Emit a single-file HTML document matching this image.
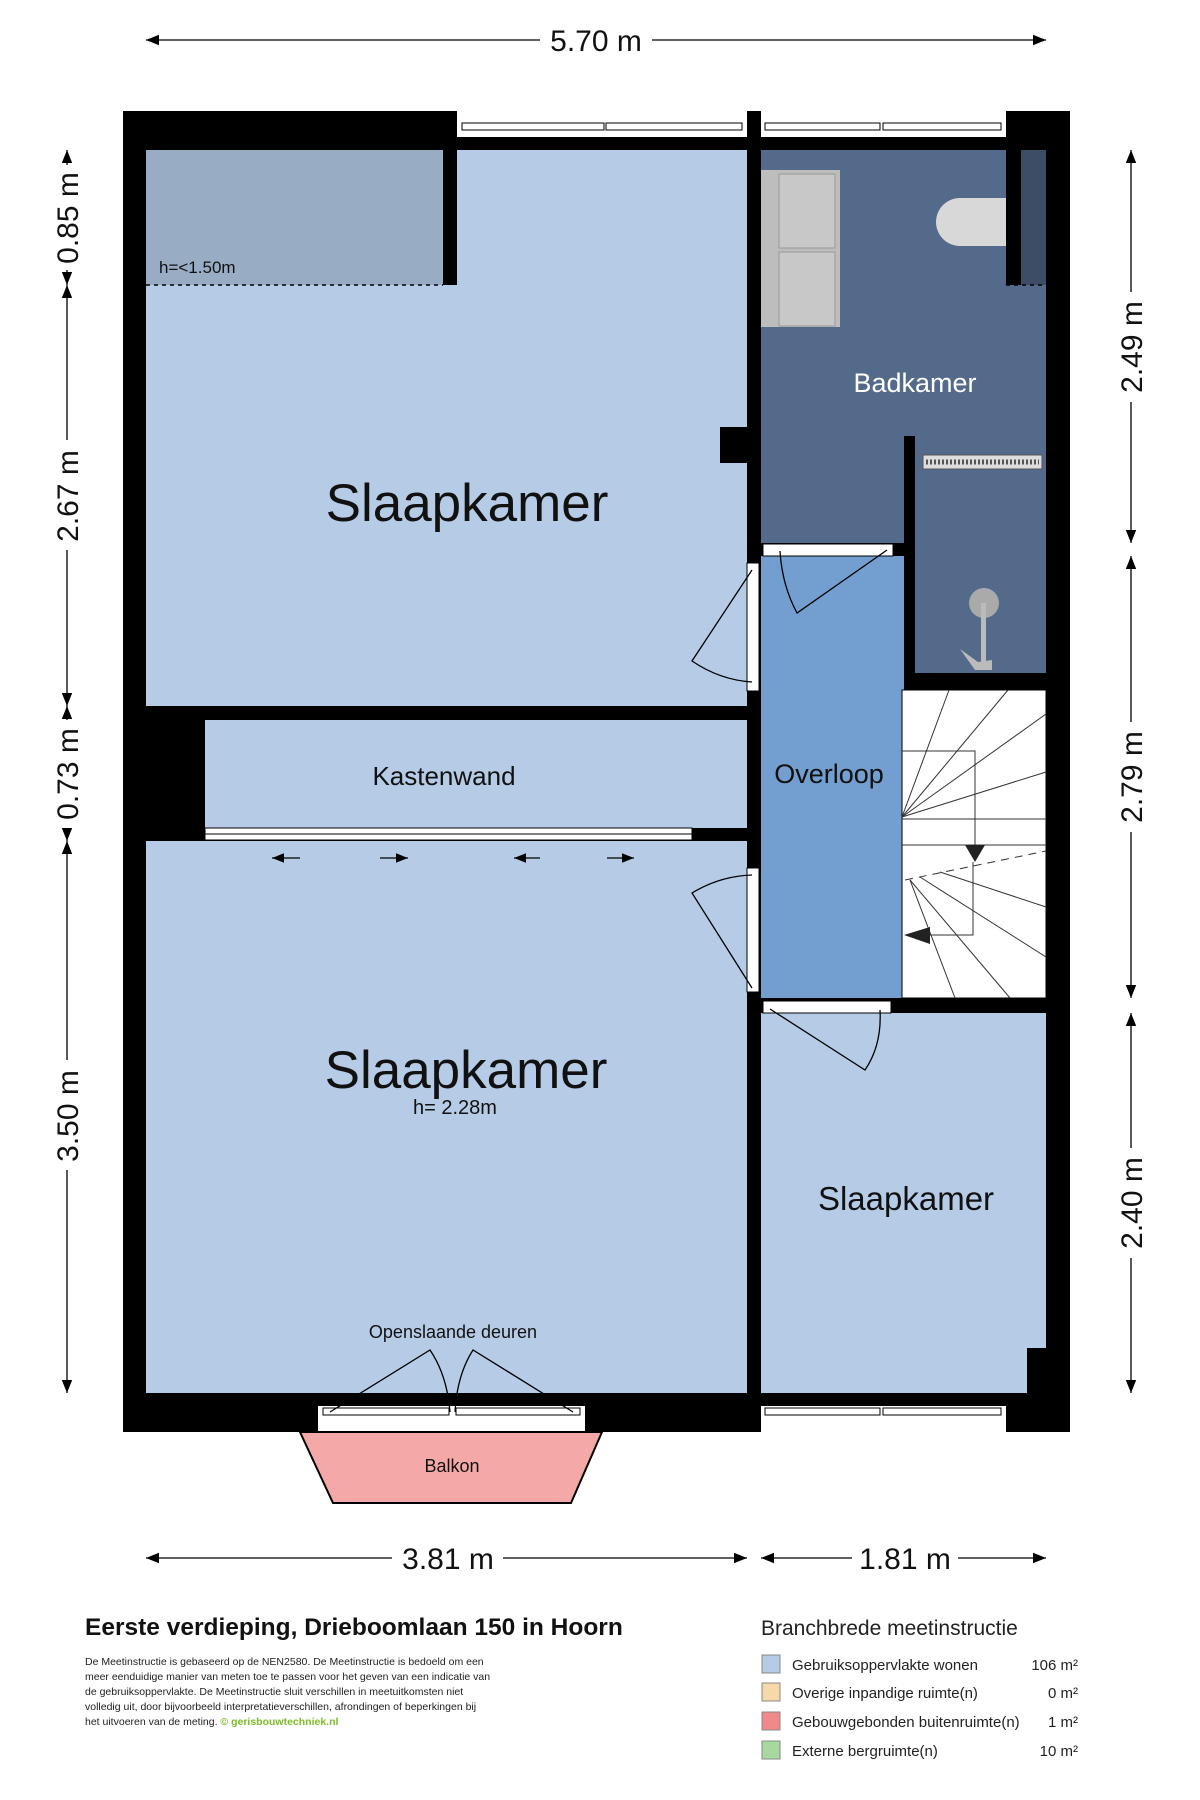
<!DOCTYPE html>
<html><head><meta charset="utf-8"><style>
html,body{margin:0;padding:0;background:#fff;width:1200px;height:1800px;overflow:hidden}
svg{display:block}
text{font-family:"Liberation Sans",sans-serif}
</style></head><body>
<svg width="1200" height="1800" viewBox="0 0 1200 1800" xmlns="http://www.w3.org/2000/svg">
<defs>
<marker id="ar" viewBox="0 0 10 10" refX="10" refY="5" markerWidth="10" markerHeight="10" orient="auto-start-reverse"><path d="M0,1 L10,5 L0,9 z" fill="#000"/></marker>
</defs>
<rect x="123" y="111" width="947" height="1321" fill="#000"/>
<rect x="146" y="150" width="601" height="556" fill="#b6cce6"/>
<rect x="146" y="150" width="297" height="135" fill="#98adc4"/>
<line x1="146" y1="285" x2="443" y2="285" stroke="#000" stroke-width="1.5" stroke-dasharray="4,4"/>
<rect x="443" y="150" width="14" height="135" fill="#000"/>
<rect x="720" y="427" width="27" height="36" fill="#000"/>
<rect x="205" y="720" width="542" height="108" fill="#b6cce6"/>
<rect x="146" y="841" width="601" height="552" fill="#b6cce6"/>
<rect x="761" y="150" width="285" height="393" fill="#546a8a"/>
<rect x="915" y="436" width="131" height="237" fill="#546a8a"/>
<rect x="904" y="436" width="11" height="252" fill="#000"/>
<rect x="1006" y="111" width="15" height="174" fill="#000"/>
<rect x="1021" y="150" width="25" height="135" fill="#3d4d66"/>
<line x1="1006" y1="285" x2="1046" y2="285" stroke="#000" stroke-width="1.5" stroke-dasharray="4,4"/>
<rect x="761" y="170" width="79" height="157" fill="#bdbdbd"/>
<rect x="779" y="174" width="56" height="74" fill="#c8c8c8" stroke="#999"/>
<rect x="779" y="252" width="56" height="74" fill="#c8c8c8" stroke="#999"/>
<path d="M1006,198 L960,198 A24,24 0 0 0 960,246 L1006,246 z" fill="#d8d8d8"/>
<rect x="923" y="455" width="119" height="14" fill="#ddd" stroke="#555"/>
<line x1="926" y1="462" x2="1039" y2="462" stroke="#555" stroke-width="5" stroke-dasharray="2,2"/>
<circle cx="984" cy="603" r="15" fill="#aaa"/>
<rect x="981" y="603" width="5" height="62" fill="#bbb"/>
<path d="M960,649 L978,662 L992,660 L992,670 L975,670 z" fill="#bbb"/>
<rect x="761" y="556" width="143" height="442" fill="#729fcf"/>
<rect x="902" y="690" width="144" height="308" fill="#fff" stroke="#000"/>
<g stroke="#333" stroke-width="1" fill="none">
<line x1="902" y1="817" x2="949" y2="690"/><line x1="902" y1="817" x2="1008" y2="690"/><line x1="902" y1="817" x2="1046" y2="714"/><line x1="902" y1="817" x2="1046" y2="772"/>
<line x1="902" y1="819" x2="1046" y2="819"/><line x1="902" y1="845" x2="1046" y2="845"/>
<line x1="910" y1="880" x2="955" y2="998"/><line x1="910" y1="880" x2="1010" y2="998"/><line x1="920" y1="877" x2="1046" y2="957"/><line x1="940" y1="872" x2="1046" y2="907"/>
<polyline points="902,751 975,751 975,845"/>
<polyline points="973,862 973,935 920,935"/>
<path d="M905,880 L1046,851" stroke-dasharray="8,6"/>
</g>
<path d="M965,845 L985,845 L975,862 z" fill="#222"/>
<path d="M904,935 L930,927 L930,944 z" fill="#222"/>
<rect x="761" y="1013" width="285" height="380" fill="#b6cce6"/>
<rect x="1027" y="1348" width="19" height="45" fill="#000"/>
<g fill="#fff">
<rect x="457" y="111" width="290" height="26"/>
<rect x="761" y="111" width="245" height="26"/>
<rect x="318" y="1406" width="267" height="26"/>
<rect x="761" y="1406" width="245" height="26"/>
</g>
<g fill="none" stroke="#000" stroke-width="1">
<rect x="462" y="123" width="142" height="7"/><rect x="606" y="123" width="136" height="7"/>
<rect x="765" y="123" width="115" height="7"/><rect x="883" y="123" width="118" height="7"/>
<rect x="323" y="1408" width="126" height="7"/><rect x="456" y="1408" width="124" height="7"/>
<rect x="765" y="1408" width="115" height="7"/><rect x="883" y="1408" width="118" height="7"/>
</g>
<rect x="205" y="828" width="487" height="12" fill="#fff" stroke="#000"/>
<line x1="205" y1="834" x2="692" y2="834" stroke="#000"/>
<rect x="692" y="834" width="55" height="5" fill="#000"/>
<g stroke="#000" stroke-width="1.2" marker-end="url(#ar)" fill="none">
<line x1="300" y1="858" x2="272" y2="858"/><line x1="380" y1="858" x2="408" y2="858"/>
<line x1="540" y1="858" x2="514" y2="858"/><line x1="607" y1="858" x2="634" y2="858"/>
</g>
<rect x="747" y="563" width="12" height="128" fill="#fff" stroke="#000"/>
<rect x="747" y="868" width="12" height="124" fill="#fff" stroke="#000"/>
<rect x="763" y="544" width="130" height="12" fill="#fff" stroke="#000"/>
<rect x="763" y="1001" width="128" height="12" fill="#fff" stroke="#000"/>
<g fill="none" stroke="#000" stroke-width="1.3">
<path d="M752,570 L692,661 Q720,680 752,682"/>
<path d="M752,988 L692,893 Q720,876 752,875"/>
<path d="M887,550 L797,613 Q782,585 780,551"/>
<path d="M770,1009 L865,1070 Q882,1045 880,1010"/>
<path d="M330,1412 L430,1350 Q447,1375 450,1412"/>
<path d="M573,1412 L473,1350 Q457,1375 455,1412"/>
</g>
<path d="M300,1432 L602,1432 L571,1503 L333,1503 z" fill="#f4a9a8" stroke="#000" stroke-width="2"/>
<text x="467" y="521" font-size="53" text-anchor="middle" fill="#111">Slaapkamer</text>
<text x="466" y="1088" font-size="53" text-anchor="middle" fill="#111">Slaapkamer</text>
<text x="455" y="1114" font-size="20" text-anchor="middle" fill="#111">h= 2.28m</text>
<text x="444" y="785" font-size="26" text-anchor="middle" fill="#111">Kastenwand</text>
<text x="829" y="783" font-size="27" text-anchor="middle" fill="#111">Overloop</text>
<text x="915" y="392" font-size="27" text-anchor="middle" fill="#fff">Badkamer</text>
<text x="906" y="1210" font-size="33" text-anchor="middle" fill="#111">Slaapkamer</text>
<text x="453" y="1338" font-size="18" text-anchor="middle" fill="#111">Openslaande deuren</text>
<text x="452" y="1472" font-size="18" text-anchor="middle" fill="#111">Balkon</text>
<text x="159" y="273" font-size="17" fill="#111">h=&lt;1.50m</text>
<g stroke="#000" stroke-width="1.3" fill="none">
<line x1="146" y1="40" x2="540" y2="40" marker-start="url(#ar)"/><line x1="652" y1="40" x2="1046" y2="40" marker-end="url(#ar)"/>
<line x1="146" y1="1558" x2="392" y2="1558" marker-start="url(#ar)"/><line x1="503" y1="1558" x2="747" y2="1558" marker-end="url(#ar)"/>
<line x1="761" y1="1558" x2="852" y2="1558" marker-start="url(#ar)"/><line x1="958" y1="1558" x2="1046" y2="1558" marker-end="url(#ar)"/>
<line x1="67" y1="150" x2="67" y2="165" marker-start="url(#ar)"/><line x1="67" y1="270" x2="67" y2="285" marker-end="url(#ar)"/>
<line x1="67" y1="285" x2="67" y2="440" marker-start="url(#ar)"/><line x1="67" y1="550" x2="67" y2="706" marker-end="url(#ar)"/>
<line x1="67" y1="706" x2="67" y2="720" marker-start="url(#ar)"/><line x1="67" y1="828" x2="67" y2="841" marker-end="url(#ar)"/>
<line x1="67" y1="841" x2="67" y2="1060" marker-start="url(#ar)"/><line x1="67" y1="1170" x2="67" y2="1393" marker-end="url(#ar)"/>
<line x1="1131" y1="150" x2="1131" y2="292" marker-start="url(#ar)"/><line x1="1131" y1="402" x2="1131" y2="543" marker-end="url(#ar)"/>
<line x1="1131" y1="556" x2="1131" y2="722" marker-start="url(#ar)"/><line x1="1131" y1="832" x2="1131" y2="998" marker-end="url(#ar)"/>
<line x1="1131" y1="1013" x2="1131" y2="1148" marker-start="url(#ar)"/><line x1="1131" y1="1258" x2="1131" y2="1393" marker-end="url(#ar)"/>
</g>
<g font-size="30" fill="#111">
<text x="596" y="51" text-anchor="middle">5.70 m</text>
<text x="448" y="1569" text-anchor="middle">3.81 m</text>
<text x="905" y="1569" text-anchor="middle">1.81 m</text>
<text transform="translate(78,218) rotate(-90)" text-anchor="middle">0.85 m</text>
<text transform="translate(78,496) rotate(-90)" text-anchor="middle">2.67 m</text>
<text transform="translate(78,774) rotate(-90)" text-anchor="middle">0.73 m</text>
<text transform="translate(78,1116) rotate(-90)" text-anchor="middle">3.50 m</text>
<text transform="translate(1142,347) rotate(-90)" text-anchor="middle">2.49 m</text>
<text transform="translate(1142,777) rotate(-90)" text-anchor="middle">2.79 m</text>
<text transform="translate(1142,1203) rotate(-90)" text-anchor="middle">2.40 m</text>
</g>
<text x="85" y="1635" font-size="24.5" font-weight="bold" fill="#111">Eerste verdieping, Drieboomlaan 150 in Hoorn</text>
<g font-size="10.5" fill="#222">
<text x="85" y="1665">De Meetinstructie is gebaseerd op de NEN2580. De Meetinstructie is bedoeld om een</text>
<text x="85" y="1680">meer eenduidige manier van meten toe te passen voor het geven van een indicatie van</text>
<text x="85" y="1695">de gebruiksoppervlakte. De Meetinstructie sluit verschillen in meetuitkomsten niet</text>
<text x="85" y="1710">volledig uit, door bijvoorbeeld interpretatieverschillen, afrondingen of beperkingen bij</text>
<text x="85" y="1725">het uitvoeren van de meting. <tspan fill="#7dbb2a" font-weight="bold">© gerisbouwtechniek.nl</tspan></text>
</g>
<text x="761" y="1635" font-size="21" fill="#222">Branchbrede meetinstructie</text>
<g font-size="15" fill="#222">
<rect x="762" y="1655" width="18" height="18" fill="#b6cce6" stroke="#888"/>
<text x="792" y="1670">Gebruiksoppervlakte wonen</text><text x="1078" y="1670" text-anchor="end">106 m²</text>
<rect x="762" y="1683" width="18" height="18" fill="#f6d9a8" stroke="#888"/>
<text x="792" y="1698">Overige inpandige ruimte(n)</text><text x="1078" y="1698" text-anchor="end">0 m²</text>
<rect x="762" y="1712" width="18" height="18" fill="#f08a8a" stroke="#888"/>
<text x="792" y="1727">Gebouwgebonden buitenruimte(n)</text><text x="1078" y="1727" text-anchor="end">1 m²</text>
<rect x="762" y="1741" width="18" height="18" fill="#a8d8a0" stroke="#888"/>
<text x="792" y="1756">Externe bergruimte(n)</text><text x="1078" y="1756" text-anchor="end">10 m²</text>
</g>
</svg>
</body></html>
